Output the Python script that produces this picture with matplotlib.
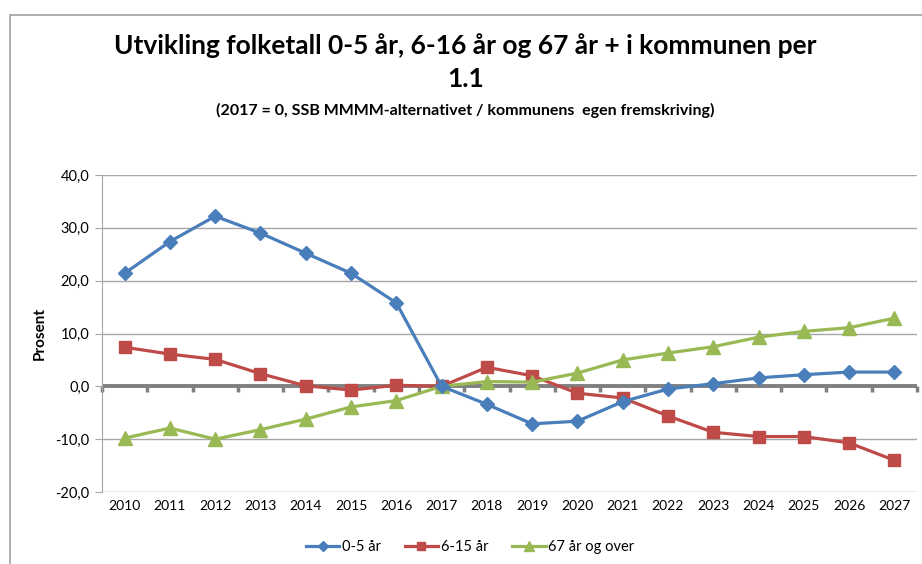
import numpy as np
import matplotlib
matplotlib.use('Agg')
import matplotlib.pyplot as plt
from matplotlib.patches import Rectangle
from matplotlib.ticker import FuncFormatter

plt.rcParams['font.family'] = ['Lato', 'DejaVu Sans']

### data ###
years = [str(y) for y in range(2010, 2028)]
age_0_5 = [21.4, 27.4, 32.2, 29.0, 25.2, 21.4, 15.8, 0.0, -3.4, -7.1, -6.6,
           -2.9, -0.5, 0.5, 1.6, 2.2, 2.7, 2.7]
age_6_15 = [7.4, 6.1, 5.1, 2.4, 0.1, -0.7, 0.2, 0.0, 3.6, 2.0, -1.3,
            -2.2, -5.6, -8.7, -9.5, -9.5, -10.7, -14.0]
age_67 = [-9.8, -7.9, -10.0, -8.2, -6.2, -3.9, -2.7, 0.0, 0.9, 0.8, 2.5,
          5.0, 6.3, 7.5, 9.3, 10.4, 11.1, 12.9]
series_labels = ['0-5 år', '6-15 år', '67 år og over']
y_ticks = [-20, -10, 0, 10, 20, 30, 40]

blue = '#4A7EBB'
red = '#BE4B48'
green = '#98B954'
axis_gray = '#808080'
grid_gray = '#A6A6A6'

fig = plt.figure(figsize=(9.22, 5.64), dpi=100)

# outer chart frame
fig.patches.append(Rectangle((10/922, -0.05), 1.0, (564-15)/564 + 0.05,
                             transform=fig.transFigure, fill=False,
                             edgecolor='#A0A0A0', linewidth=1.2, clip_on=False))

ax = fig.add_axes([102/922, (564-492)/564, 815/922, 317/564])
x = np.arange(len(years))

ax.plot(x, age_0_5, color=blue, lw=2.3, marker='D', ms=7, label=series_labels[0], zorder=4)
ax.plot(x, age_6_15, color=red, lw=2.3, marker='s', ms=8.5, label=series_labels[1], zorder=3)
ax.plot(x, age_67, color=green, lw=2.3, marker='^', ms=9.5, label=series_labels[2], zorder=3)

ymin, ymax = y_ticks[0], y_ticks[-1]
ax.set_ylim(ymin, ymax)
ax.set_xlim(-0.5, len(years) - 0.5)
ax.set_yticks(y_ticks)
ax.yaxis.set_major_formatter(FuncFormatter(lambda v, p: ('%.1f' % v).replace('.', ',')))
ax.grid(axis='y', color=grid_gray, lw=1)
ax.set_axisbelow(True)

ax.set_xticks(x)
ax.set_xticklabels(years)
ax.tick_params(axis='x', length=0, labelsize=10, pad=6)
ax.tick_params(axis='y', length=5, color=grid_gray, labelsize=10.5, pad=4)

for s in ['top', 'right', 'bottom']:
    ax.spines[s].set_visible(False)
ax.spines['left'].set_color(grid_gray)

# thick category axis through zero, with tick marks between categories
ax.axhline(0, color=axis_gray, lw=2.8, zorder=2)
sec = ax.secondary_xaxis((0 - ymin) / (ymax - ymin))
sec.set_xticks(np.arange(-0.5, len(years), 1.0))
sec.tick_params(length=4.5, width=2.5, color=axis_gray, labelbottom=False)
sec.spines['bottom'].set_visible(False)

ax.set_ylabel('Prosent', fontsize=11, fontweight='bold', labelpad=6)

fig.text(0.505, 1 - 46/564, 'Utvikling folketall 0-5 år, 6-16 år og 67 år + i kommunen per',
         ha='center', va='center', fontsize=19, fontweight='bold')
fig.text(0.505, 1 - 79/564, '1.1', ha='center', va='center', fontsize=19, fontweight='bold')
fig.text(0.505, 1 - 110/564, '(2017 = 0, SSB MMMM-alternativet / kommunens  egen fremskriving)',
         ha='center', va='center', fontsize=11.5, fontweight='bold')

fig.legend(loc='center', bbox_to_anchor=(0.51, 1 - 547/564), ncol=3, frameon=False,
           fontsize=10.5, handlelength=2.3, columnspacing=1.6, handletextpad=0.2,
           markerscale=0.7)

fig.savefig('out.png', dpi=100)
